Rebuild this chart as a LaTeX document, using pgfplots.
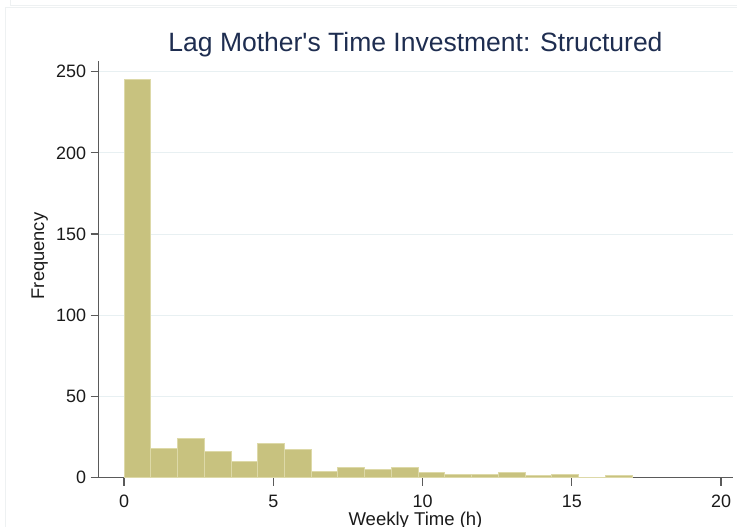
\documentclass[border=0pt]{standalone}
\usepackage{pgfplots}
\pgfplotsset{compat=1.18}
\usepackage{fontspec}
\setmainfont{Liberation Sans}[Ligatures=TeXOff]
\definecolor{barfill}{HTML}{C8C27F}
\definecolor{baredge}{HTML}{DDD9A8}
\definecolor{gridc}{HTML}{E8F0F2}
\definecolor{titlec}{HTML}{1E2D50}
\definecolor{axisc}{HTML}{5A5A5A}
\definecolor{textc}{HTML}{1A1A1A}
\definecolor{framec}{HTML}{EEF1F2}
\begin{document}
\begin{tikzpicture}
\useasboundingbox (0,0) rectangle (737bp,527bp);
\draw[framec, line width=1bp] (5.5bp,0bp) -- (5.5bp,519bp) -- (737bp,519bp);
\draw[framec, line width=1bp] (10bp,527bp) -- (10bp,521bp) -- (737bp,521bp);
\begin{axis}[
  at={(98.7bp,49.5bp)}, anchor=south west,
  scale only axis, width=634.3bp, height=416.5bp,
  xmin=-0.85, xmax=20.4, ymin=0, ymax=256.6,
  axis x line*=bottom, axis y line*=left,
  axis line style={-, color=axisc, line width=1.2bp},
  xtick={0,5,10,15,20}, ytick={0,50,100,150,200,250},
  tick align=outside, major tick length=8bp,
  tick style={color=axisc, line width=1.2bp},
  minor tick num=0,
  ymajorgrids, grid style={color=gridc, line width=1bp},
  /pgf/number format/assume math mode=true,
  ticklabel style={font=\fontsize{18}{18}\selectfont, text=textc, inner sep=0pt},
  xticklabel style={anchor=north},
  xticklabel shift=9bp,
  yticklabel style={anchor=east},
  yticklabel shift=4.5bp,
  clip=false,
]
\addplot[ybar interval, fill=barfill, draw=baredge, line width=1bp] coordinates {
(0.0000,245) (0.8958,18) (1.7916,24) (2.6874,16) (3.5832,10)
(4.4790,21) (5.3748,17) (6.2706,4) (7.1664,6) (8.0622,5)
(8.9580,6) (9.8538,3) (10.7496,2) (11.6454,2) (12.5412,3)
(13.4370,1) (14.3328,2) (15.2286,0) (16.1244,1) (17.0202,1)
};
\end{axis}
\node[anchor=base, font=\fontsize{26.6}{26.6}\selectfont, text=titlec] at (415.5bp,475.3bp) {Lag Mother's Time Investment: Structured};
\node[anchor=base, font=\fontsize{18.6}{18.6}\selectfont, text=textc] at (415.5bp,2bp) {Weekly Time (h)};
\node[anchor=base, rotate=90, font=\fontsize{18.4}{18.4}\selectfont, text=textc] at (44bp,271bp) {Frequency};
\end{tikzpicture}
\end{document}
